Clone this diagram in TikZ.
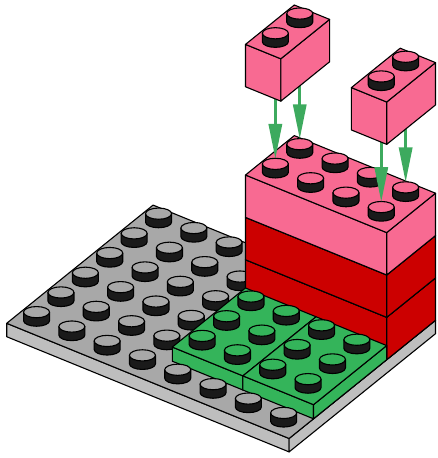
\documentclass[tikz,border=0pt]{standalone}
\usetikzlibrary{arrows.meta}
\definecolor{gtop}{HTML}{A8A8A8}
\definecolor{gside}{HTML}{BEBEBE}
\definecolor{grn}{HTML}{34B45A}
\definecolor{pnk}{HTML}{F86A92}
\definecolor{rd}{HTML}{CC0000}
\definecolor{arrgreen}{HTML}{3DAA5E}
\definecolor{studdark}{HTML}{1A1A1A}
\newcommand\legobox[8]{%
  \filldraw[fill=#7] (#1,#3,#5) -- (#2,#3,#5) -- (#2,#3,#6) -- (#1,#3,#6) -- cycle;
  \filldraw[fill=#7] (#2,#3,#5) -- (#2,#4,#5) -- (#2,#4,#6) -- (#2,#3,#6) -- cycle;
  \filldraw[fill=#8] (#1,#3,#6) -- (#2,#3,#6) -- (#2,#4,#6) -- (#1,#4,#6) -- cycle;
}
\newcommand\legostud[4]{%
  \begin{scope}[shift={(#1,#2,#3)}]
    \filldraw[fill=studdark] (-13pt,0pt) arc[start angle=180,end angle=360,x radius=13pt,y radius=5.6pt] -- (13pt,8.5pt) -- (-13pt,8.5pt) -- cycle;
    \filldraw[fill=#4] (0pt,8.5pt) ellipse[x radius=13pt,y radius=5.6pt];
  \end{scope}
}
\tikzset{arr/.style={draw=arrgreen,line width=3.2pt,-{Triangle[length=35pt,width=13pt]}}}
\begin{document}
\begin{tikzpicture}[x={(35.3pt,-14.4pt)},y={(24.4pt,19.7pt)},z={(0pt,35.3pt)},line width=1.1pt,line join=round]
\useasboundingbox (-6.7pt,-134.7pt) rectangle (430.3pt,323.3pt);
% baseplate
\legobox{0}{8}{0}{6}{-0.38}{0}{gside}{gtop}
\foreach \j in {5,4,3,2,1} \foreach \i in {0,...,3} {\legostud{\i+0.5}{\j+0.5}{0}{gtop}}
% tower
\legobox{4}{8}{4}{6}{0}{1.2}{rd}{rd}
\legobox{4}{8}{4}{6}{1.2}{2.4}{rd}{rd}
\legobox{4}{8}{4}{6}{2.4}{3.6}{pnk}{pnk}
\foreach \j in {5,4} \foreach \i in {4,...,7} {\legostud{\i+0.5}{\j+0.5}{3.6}{pnk}}
% green plates
\legobox{4}{6}{1}{4}{0}{0.4}{grn}{grn}
\legobox{6}{8}{1}{4}{0}{0.4}{grn}{grn}
\foreach \j in {3,2,1} \foreach \i in {4,...,7} {\legostud{\i+0.5}{\j+0.5}{0.4}{grn}}
% front row of baseplate studs
\foreach \i in {0,...,7} {\legostud{\i+0.5}{0.5}{0}{gtop}}
% arrows
\foreach \u in {4.5,7.5} \foreach \v in {5.5,4.5} {\draw[arr] (\u,\v,6.1) -- (\u,\v,3.98);}
% floating bricks
\legobox{4}{5}{4}{6}{6.1}{7.3}{pnk}{pnk}
\legostud{4.5}{5.5}{7.3}{pnk}
\legostud{4.5}{4.5}{7.3}{pnk}
\legobox{7}{8}{4}{6}{6.1}{7.3}{pnk}{pnk}
\legostud{7.5}{5.5}{7.3}{pnk}
\legostud{7.5}{4.5}{7.3}{pnk}
\end{tikzpicture}
\end{document}
